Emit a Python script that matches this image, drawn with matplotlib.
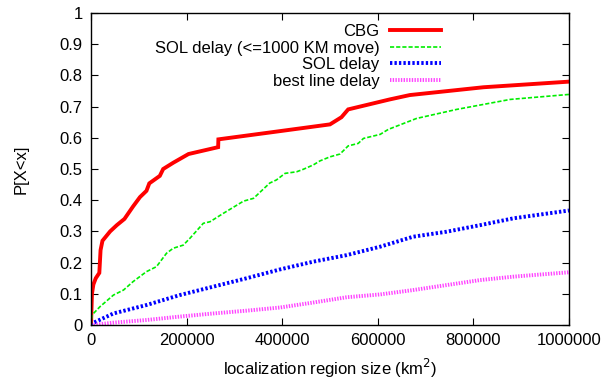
import matplotlib
matplotlib.use("Agg")
import matplotlib.pyplot as plt
from matplotlib.ticker import FixedLocator, FixedFormatter

plt.rcParams['font.family'] = ['Liberation Sans', 'DejaVu Sans']

# CDFs of localization region size (km^2)
cbg_x = [0, 2000, 5000, 10000, 17400, 20000, 24000, 40000, 54000, 70000, 88000,
         102500, 116000, 122000, 144000, 151000, 172000, 204000, 266000, 266500,
         374000, 500000, 524000, 538000, 625000, 667000, 821000, 1000000]
cbg_y = [0.0, 0.10, 0.13, 0.15, 0.167, 0.24, 0.27, 0.30, 0.32, 0.34, 0.38,
         0.41, 0.43, 0.454, 0.478, 0.50, 0.52, 0.548, 0.57, 0.595,
         0.617, 0.643, 0.666, 0.691, 0.723, 0.737, 0.762, 0.78]

sol1000_x = [0, 2000, 19000, 47000, 68000, 88000, 116000, 137000, 158000, 172000,
             193000, 207000, 235000, 249000, 277000, 319000, 340000, 374000,
             388000, 406000, 430000, 444000, 465000, 479000, 500000, 521000,
             538000, 559000, 570000, 605000, 622000, 681000, 765000, 877000,
             1000000]
sol1000_y = [0.0, 0.032, 0.059, 0.096, 0.112, 0.139, 0.171, 0.187, 0.23, 0.246,
             0.256, 0.278, 0.326, 0.331, 0.358, 0.397, 0.406, 0.455,
             0.465, 0.486, 0.491, 0.499, 0.513, 0.526, 0.539, 0.548,
             0.574, 0.582, 0.598, 0.611, 0.627, 0.662, 0.691, 0.723,
             0.739]

sol_x = [0, 2000, 47000, 116000, 186000, 256000, 326000, 395000, 465000, 535000,
         605000, 674000, 744000, 814000, 884000, 1000000]
sol_y = [0.0, 0.005, 0.037, 0.064, 0.096, 0.123, 0.15, 0.178, 0.203, 0.224,
         0.251, 0.283, 0.299, 0.32, 0.342, 0.367]

bestline_x = [0, 2000, 47000, 116000, 186000, 256000, 326000, 395000, 465000,
              535000, 605000, 674000, 744000, 814000, 884000, 1000000]
bestline_y = [0.0, 0.0, 0.0075, 0.016, 0.027, 0.037, 0.046, 0.056, 0.072,
              0.089, 0.098, 0.112, 0.128, 0.144, 0.155, 0.169]

labels = ["CBG", "SOL delay (<=1000 KM move)", "SOL delay", "best line delay"]

x_ticks = [0, 200000, 400000, 600000, 800000, 1000000]
x_ticklabels = ["0", "200000", "400000", "600000", "800000", "1000000"]
y_ticks = [0, 0.1, 0.2, 0.3, 0.4, 0.5, 0.6, 0.7, 0.8, 0.9, 1.0]
y_ticklabels = ["0", "0.1", "0.2", "0.3", "0.4", "0.5", "0.6", "0.7", "0.8", "0.9", "1"]

fig = plt.figure(figsize=(6.12, 3.83), dpi=100)
ax = fig.add_axes([91 / 612, 58 / 383, 478 / 612, 312 / 383])

ax.plot(cbg_x, cbg_y, color="#ff0000", lw=2.8, solid_joinstyle="miter", label=labels[0])
ax.plot(sol1000_x, sol1000_y, color="#00ee00", lw=1.2, dashes=(2.5, 1.2), label=labels[1])
ax.plot(sol_x, sol_y, color="#0000ff", lw=2.8, dashes=(0.6, 0.55), label=labels[2])
ax.plot(bestline_x, bestline_y, color="#ff44ff", lw=2.8, dashes=(0.35, 0.35), label=labels[3])

ax.set_xlim(0, 1000000)
ax.set_ylim(0, 1)
ax.xaxis.set_major_locator(FixedLocator(x_ticks))
ax.xaxis.set_major_formatter(FixedFormatter(x_ticklabels))
ax.yaxis.set_major_locator(FixedLocator(y_ticks))
ax.yaxis.set_major_formatter(FixedFormatter(y_ticklabels))
ax.tick_params(direction="in", top=True, right=True, length=5, width=0.8,
               labelsize=12, pad=6)
for s in ax.spines.values():
    s.set_linewidth(1.0)

ax.set_xlabel("localization region size (km$^2$)", fontsize=12, labelpad=6)
ax.set_ylabel("P[X<x]", fontsize=12, labelpad=22)

leg = ax.legend(loc="upper right", bbox_to_anchor=(441 / 612, (383 - 24) / 383),
                bbox_transform=fig.transFigure, frameon=False, markerfirst=False,
                fontsize=12, handlelength=3.05, handletextpad=0.65,
                labelspacing=0.1, borderpad=0, borderaxespad=0)

fig.savefig("out.png", dpi=100)
